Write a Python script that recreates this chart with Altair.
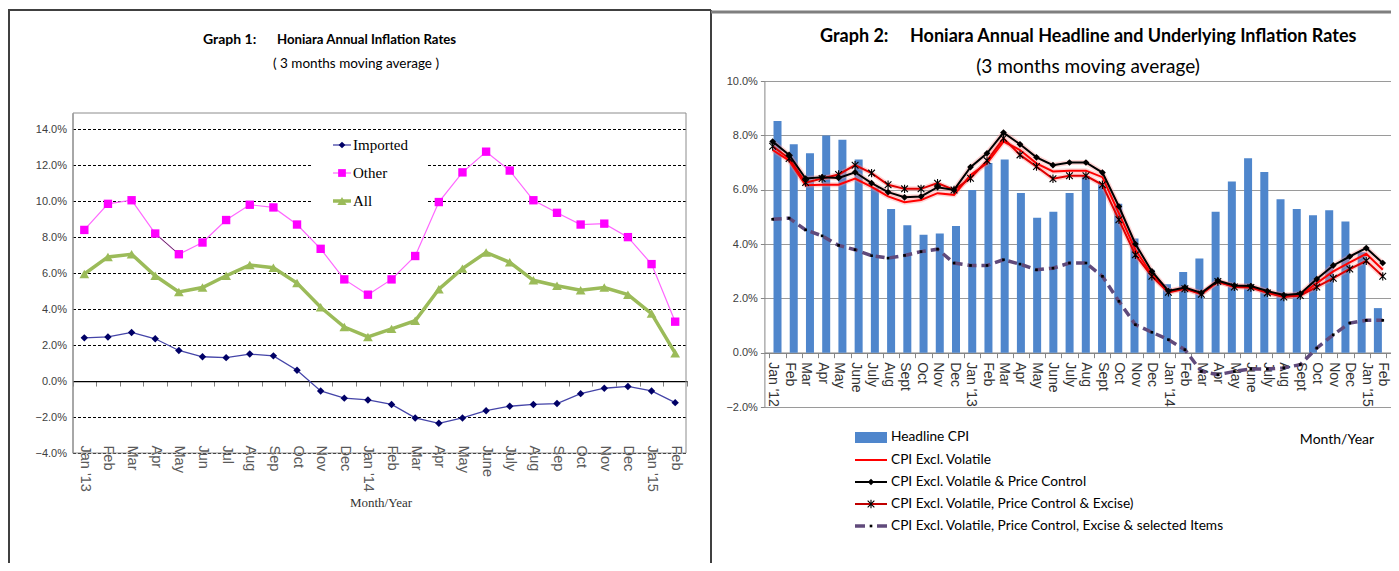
import json
import pandas as pd
import altair as alt

# ---------------- Graph 1 data ----------------
months_1 = ["Jan '13", "Feb", "Mar", "Apr", "May", "Jun", "Jul", "Aug", "Sep", "Oct", "Nov", "Dec",
            "Jan '14", "Feb", "Mar", "Apr", "May", "June", "July", "Aug", "Sep", "Oct", "Nov", "Dec",
            "Jan '15", "Feb"]
imported = [2.4, 2.45, 2.7, 2.35, 1.7, 1.35, 1.3, 1.5, 1.4, 0.6, -0.55, -0.95,
            -1.05, -1.3, -2.05, -2.35, -2.05, -1.65, -1.4, -1.3, -1.25, -0.7, -0.4, -0.3,
            -0.55, -1.2]
other = [8.4, 9.85, 10.05, 8.2, 7.05, 7.7, 8.95, 9.8, 9.65, 8.7, 7.35, 5.65,
         4.8, 5.65, 6.95, 9.95, 11.6, 12.75, 11.7, 10.05, 9.35, 8.7, 8.75, 8.0,
         6.5, 3.3]
all_items = [5.95, 6.9, 7.05, 5.85, 4.95, 5.2, 5.85, 6.45, 6.3, 5.45, 4.1, 3.0,
             2.45, 2.9, 3.35, 5.1, 6.25, 7.15, 6.6, 5.6, 5.3, 5.05, 5.2, 4.8,
             3.75, 1.55]
y_ticks_1 = [-4, -2, 0, 2, 4, 6, 8, 10, 12, 14]
legend_1 = ["Imported", "Other", "All"]

# ---------------- Graph 2 data ----------------
months_2 = ["Jan '12", "Feb", "Mar", "Apr", "May", "June", "July", "Aug", "Sept", "Oct", "Nov", "Dec",
            "Jan '13", "Feb", "Mar", "Apr", "May", "June", "July", "Aug", "Sept", "Oct", "Nov", "Dec",
            "Jan '14", "Feb", "Mar", "Apr", "May", "June", "July", "Aug", "Sept", "Oct", "Nov", "Dec",
            "Jan '15", "Feb"]
headline_cpi = [8.53, 7.67, 7.34, 7.99, 7.84, 7.11, 6.08, 5.29, 4.69, 4.34, 4.39, 4.66,
                5.99, 6.98, 7.11, 5.88, 4.97, 5.19, 5.88, 6.5, 6.2, 5.48, 4.2, 3.05,
                2.52, 2.97, 3.47, 5.19, 6.3, 7.16, 6.65, 5.65, 5.29, 5.06, 5.24, 4.83,
                3.7, 1.64]
excl_volatile = [7.46, 7.07, 6.16, 6.18, 6.18, 6.41, 6.1, 5.75, 5.54, 5.62, 5.87, 5.81,
                 6.54, 6.97, 7.77, 7.46, 6.97, 6.67, 6.7, 6.7, 6.46, 5.13, 3.79, 2.87,
                 2.24, 2.37, 2.17, 2.6, 2.44, 2.42, 2.22, 2.07, 2.12, 2.56, 2.99, 3.32,
                 3.64, 3.05]
excl_vol_pc = [7.77, 7.28, 6.41, 6.46, 6.43, 6.64, 6.24, 5.91, 5.72, 5.75, 6.09, 5.99,
               6.83, 7.34, 8.1, 7.67, 7.19, 6.9, 7.0, 7.0, 6.63, 5.38, 4.0, 2.99,
               2.27, 2.4, 2.2, 2.65, 2.47, 2.45, 2.27, 2.12, 2.17, 2.71, 3.21, 3.54,
               3.85, 3.3]
excl_vol_pc_ex = [7.6, 7.15, 6.26, 6.41, 6.56, 6.9, 6.61, 6.18, 6.03, 6.03, 6.24, 5.99,
                  6.42, 7.07, 7.89, 7.28, 6.85, 6.4, 6.51, 6.51, 6.18, 4.89, 3.6, 2.81,
                  2.22, 2.35, 2.15, 2.62, 2.42, 2.4, 2.2, 2.05, 2.1, 2.42, 2.74, 3.08,
                  3.38, 2.81]
excl_sel = [4.91, 4.95, 4.52, 4.3, 3.95, 3.79, 3.57, 3.48, 3.58, 3.72, 3.81, 3.3,
            3.21, 3.21, 3.42, 3.26, 3.05, 3.11, 3.3, 3.3, 2.81, 1.89, 1.03, 0.75,
            0.48, 0.11, -0.69, -0.81, -0.69, -0.6, -0.6, -0.56, -0.44, 0.17, 0.66, 1.09,
            1.19, 1.19]
y_ticks_2 = [-2, 0, 2, 4, 6, 8, 10]
legend_2 = ["Headline CPI", "CPI Excl. Volatile", "CPI Excl. Volatile & Price Control",
            "CPI Excl. Volatile, Price Control & Excise)",
            "CPI Excl. Volatile, Price Control, Excise & selected Items"]

# ---------------- layout helpers ----------------
W, H = 1383, 555


def cx(v):
    return v - 8


def cy(v):
    return v - 8


NARROW = "Lato, Liberation Sans, sans-serif"
ARIAL = "Liberation Sans, Arial, sans-serif"
SERIF = "Liberation Serif, DejaVu Serif, serif"
ASTER = "M0,-1L0,1M-0.8,-0.8L0.8,0.8M-0.8,0.8L0.8,-0.8"

df1 = pd.DataFrame({"i": list(range(len(months_1))), "imported": imported,
                    "other": other, "all": all_items})
df2 = pd.DataFrame({"i": list(range(len(months_2))), "headline": headline_cpi,
                    "ev": excl_volatile, "evpc": excl_vol_pc, "evpce": excl_vol_pc_ex,
                    "sel": excl_sel})
one = pd.DataFrame({"k": [0]})

# panel 1 scales
y1_top, y1_bot = cy(113), cy(453)
ys1 = alt.Scale(domain=[-4, 14.9], range=[y1_bot, y1_top], nice=False, zero=False)
xs1 = alt.Scale(domain=[-0.5, 25.5], range=[cx(72.5), cx(687)], nice=False, zero=False)
y1_zero = y1_bot - 4 * (y1_bot - y1_top) / 18.9
# panel 2 scales
y2_top, y2_bot = cy(81), cy(407)
ys2 = alt.Scale(domain=[-2, 10], range=[y2_bot, y2_top], nice=False, zero=False)
xs2 = alt.Scale(domain=[-0.5, 37.5], range=[cx(764.4), cx(1391)], nice=False, zero=False)
y2_zero = y2_bot - 2 * (y2_bot - y2_top) / 12.0

lab1 = json.dumps(months_1) + "[round(datum.value)]"
lab2 = json.dumps(months_2) + "[round(datum.value)]"
pct = "format(datum.value, '.1f') + '%'"


def X1(axis=None):
    return alt.X("i:Q", scale=xs1, axis=axis)


def X2(axis=None):
    return alt.X("i:Q", scale=xs2, axis=axis)


def txt(s, x, y, size, font, align="left", weight="normal", color="black"):
    return alt.Chart(one).mark_text(align=align, baseline="middle", fontSize=size, font=font,
                                    fontWeight=weight, color=color).encode(
        x=alt.value(cx(x)), y=alt.value(cy(y)), text=alt.value(s))


def hline(x1, x2, y, color, width, dash=None):
    kw = dict(color=color, strokeWidth=width)
    if dash:
        kw["strokeDash"] = dash
    return alt.Chart(one).mark_rule(**kw).encode(
        x=alt.value(cx(x1)), x2=alt.value(cx(x2)), y=alt.value(cy(y)))


def vline(x, y1, y2, color, width):
    return alt.Chart(one).mark_rule(color=color, strokeWidth=width).encode(
        x=alt.value(cx(x)), y=alt.value(cy(y1)), y2=alt.value(cy(y2)))


def pt(x, y, shape, size, color, filled=True, sw=1):
    return alt.Chart(one).mark_point(shape=shape, size=size, filled=filled, color=color,
                                     strokeWidth=sw, opacity=1).encode(
        x=alt.value(cx(x)), y=alt.value(cy(y)))


layers = []

# ================= Panel 1 =================
b1 = alt.Chart(df1)
y_axis_1 = alt.Axis(orient="left", offset=-cx(72.5), values=y_ticks_1, labelExpr=pct,
                    grid=True, gridColor="black", gridDash=[3, 2], gridWidth=1,
                    domainColor="#868686", ticks=False, labelFont=ARIAL, labelFontSize=11,
                    labelColor="#404040", labelPadding=6, title=None)
x_tick_axis_1 = alt.Axis(orient="bottom", offset=y1_zero - H,
                         values=[k - 0.5 for k in range(len(months_1) + 1)],
                         labels=False, tickSize=5, tickColor="#808080", domainColor="black",
                         domainWidth=1.2, grid=False, title=None)
x_lab_axis_1 = alt.Axis(orient="bottom", offset=cy(445) - H, values=list(range(len(months_1))),
                        labelExpr=lab1, labelAngle=90, labelAlign="left", labelBaseline="middle",
                        labelFont=ARIAL, labelFontSize=14.5, labelColor="#595959",
                        labelPadding=0, labelOverlap=False, labelFlush=False,
                        ticks=False, domain=False, grid=False, title=None)

# plot area border
layers.append(alt.Chart(one).mark_rect(fillOpacity=0, stroke="#8c8c8c", strokeWidth=1).encode(
    x=alt.value(cx(73)), x2=alt.value(cx(686)), y=alt.value(y1_top), y2=alt.value(y1_bot)))

# All (green)
layers.append(b1.mark_line(color="#9BBB59", strokeWidth=3.5).encode(
    x=X1(x_lab_axis_1), y=alt.Y("all:Q", scale=ys1, axis=None)))
layers.append(b1.mark_point(shape="triangle-up", filled=True, size=95, color="#9BBB59",
                            opacity=1).encode(x=X1(), y=alt.Y("all:Q", scale=ys1, axis=None)))
# Other (magenta)
layers.append(b1.mark_line(color="#FF66FF", strokeWidth=1.2).encode(
    x=X1(), y=alt.Y("other:Q", scale=ys1, axis=None)))
layers.append(b1.transform_filter("datum.i >= 3 && datum.i <= 4").mark_line(
    color="#555555", strokeWidth=1).encode(x=X1(), y=alt.Y("other:Q", scale=ys1, axis=None)))
layers.append(b1.mark_point(shape="square", filled=True, size=70, color="#FF00FF",
                            opacity=1).encode(x=X1(), y=alt.Y("other:Q", scale=ys1, axis=None)))
# Imported (navy)
layers.append(b1.mark_line(color="#4444A8", strokeWidth=1.3).encode(
    x=X1(x_tick_axis_1), y=alt.Y("imported:Q", scale=ys1, axis=y_axis_1)))
layers.append(b1.mark_point(shape="diamond", filled=True, size=55, color="#000066",
                            opacity=1).encode(x=X1(), y=alt.Y("imported:Q", scale=ys1, axis=None)))

# legend 1
layers.append(alt.Chart(one).mark_rect(color="white").encode(
    x=alt.value(cx(312)), x2=alt.value(cx(426)), y=alt.value(cy(133)), y2=alt.value(cy(214))))
leg1_y = [145, 173, 201]
layers.append(hline(333, 351, leg1_y[0], "#4444A8", 1.3))
layers.append(pt(342, leg1_y[0], "diamond", 45, "#000066"))
layers.append(hline(333, 351, leg1_y[1], "#FF66FF", 1.2))
layers.append(pt(342, leg1_y[1], "square", 60, "#FF00FF"))
layers.append(hline(333, 351, leg1_y[2], "#9BBB59", 3.5))
layers.append(pt(342, leg1_y[2], "triangle-up", 85, "#9BBB59"))
for name, yy in zip(legend_1, leg1_y):
    layers.append(txt(name, 353, yy, 15, SERIF))

# titles 1
layers.append(txt("Graph 1:", 203, 40, 14, NARROW, weight="bold"))
layers.append(txt("Honiara Annual Inflation Rates", 277, 40, 13.2, NARROW, weight="bold"))
layers.append(txt("( 3 months moving average )", 356, 64, 13.5, NARROW, align="center"))
layers.append(txt("Month/Year", 381, 503, 13, SERIF, align="center", color="#333333"))

# ================= Panel 2 =================
b2 = alt.Chart(df2)
y_axis_2 = alt.Axis(orient="left", offset=-cx(764.4), values=y_ticks_2, labelExpr=pct,
                    grid=True, gridColor="#9a9a9a", gridWidth=1, domainColor="#868686",
                    ticks=True, tickSize=4, tickColor="#868686", labelFont=ARIAL,
                    labelFontSize=11, labelColor="#404040", labelPadding=3, title=None)
x_tick_axis_2 = alt.Axis(orient="bottom", offset=y2_zero - H,
                         values=[k - 0.5 for k in range(len(months_2) + 1)],
                         labels=False, tickSize=5, tickColor="#868686", domainColor="#868686",
                         domainWidth=1.5, grid=False, title=None)
x_lab_axis_2 = alt.Axis(orient="bottom", offset=y2_zero - H, values=list(range(len(months_2))),
                        labelExpr=lab2, labelAngle=90, labelAlign="left", labelBaseline="middle",
                        labelFont=ARIAL, labelFontSize=14, labelColor="#333333",
                        labelPadding=9, labelOverlap=False, labelFlush=False,
                        ticks=False, domain=False, grid=False, title=None)

BAR = "#4F86CC"
PURPLE = "#604A7B"

layers.append(b2.mark_bar(color=BAR, size=8).encode(
    x=X2(x_tick_axis_2), y=alt.Y("headline:Q", scale=ys2, axis=y_axis_2), y2=alt.datum(0)))
# purple dashed
layers.append(b2.mark_line(color=PURPLE, strokeWidth=3.5, strokeDash=[9, 5]).encode(
    x=X2(x_lab_axis_2), y=alt.Y("sel:Q", scale=ys2, axis=None)))
layers.append(b2.mark_point(shape="square", filled=True, size=7, color="black", opacity=1).encode(
    x=X2(), y=alt.Y("sel:Q", scale=ys2, axis=None)))
# glow
for col in ["ev", "evpce", "evpc"]:
    layers.append(b2.mark_line(color="#FF8A8A", strokeWidth=5, opacity=0.35).encode(
        x=X2(), y=alt.Y(col + ":Q", scale=ys2, axis=None)))
# red plain
layers.append(b2.mark_line(color="#FF0000", strokeWidth=2).encode(
    x=X2(), y=alt.Y("ev:Q", scale=ys2, axis=None)))
# red with asterisk
layers.append(b2.mark_line(color="#E00000", strokeWidth=2).encode(
    x=X2(), y=alt.Y("evpce:Q", scale=ys2, axis=None)))
layers.append(b2.mark_point(shape=ASTER, filled=False, size=70, color="black", strokeWidth=1.1,
                            opacity=1).encode(x=X2(), y=alt.Y("evpce:Q", scale=ys2, axis=None)))
# black with diamonds
layers.append(b2.mark_line(color="black", strokeWidth=2).encode(
    x=X2(), y=alt.Y("evpc:Q", scale=ys2, axis=None)))
layers.append(b2.mark_point(shape="diamond", filled=True, size=45, color="black", opacity=1).encode(
    x=X2(), y=alt.Y("evpc:Q", scale=ys2, axis=None)))

# legend 2
leg2_y = [437, 460, 482, 504, 526]
layers.append(alt.Chart(one).mark_rect(color=BAR).encode(
    x=alt.value(cx(855)), x2=alt.value(cx(887)), y=alt.value(cy(432)), y2=alt.value(cy(443))))
layers.append(hline(855, 887, leg2_y[1], "#FF0000", 2))
layers.append(hline(855, 887, leg2_y[2], "black", 2))
layers.append(pt(871, leg2_y[2], "diamond", 40, "black"))
layers.append(hline(855, 887, leg2_y[3], "#C00000", 2))
layers.append(pt(871, leg2_y[3], ASTER, 70, "black", filled=False, sw=1.1))
layers.append(hline(855, 865, leg2_y[4], PURPLE, 3.5))
layers.append(hline(877, 887, leg2_y[4], PURPLE, 3.5))
layers.append(pt(871, leg2_y[4], "square", 7, "black"))
for name, yy in zip(legend_2, leg2_y):
    layers.append(txt(name, 891, yy, 13.7, NARROW))

# titles 2
layers.append(txt("Graph 2:", 820, 37, 18, NARROW, weight="bold"))
layers.append(txt("Honiara Annual Headline and Underlying Inflation Rates", 910, 37, 18, NARROW,
                  weight="bold"))
layers.append(txt("(3 months moving average)", 1088, 67, 19, NARROW, align="center"))
layers.append(txt("Month/Year", 1337, 440, 14, NARROW, align="center"))

# panel frames
layers.append(hline(8, 711, 10, "#404040", 2))
layers.append(vline(9, 10, 571, "#404040", 2))
layers.append(vline(711, 10, 571, "#404040", 2))
layers.append(hline(711, 1399, 12, "#7f7f7f", 3))

chart = alt.layer(*layers).properties(
    width=W, height=H, padding=0, autosize=alt.AutoSizeParams(type="none")
).resolve_scale(x="independent", y="independent").resolve_axis(
    x="independent", y="independent").configure_view(stroke=None)

chart.save("out.html", embed_options={"renderer": "svg", "actions": False})
